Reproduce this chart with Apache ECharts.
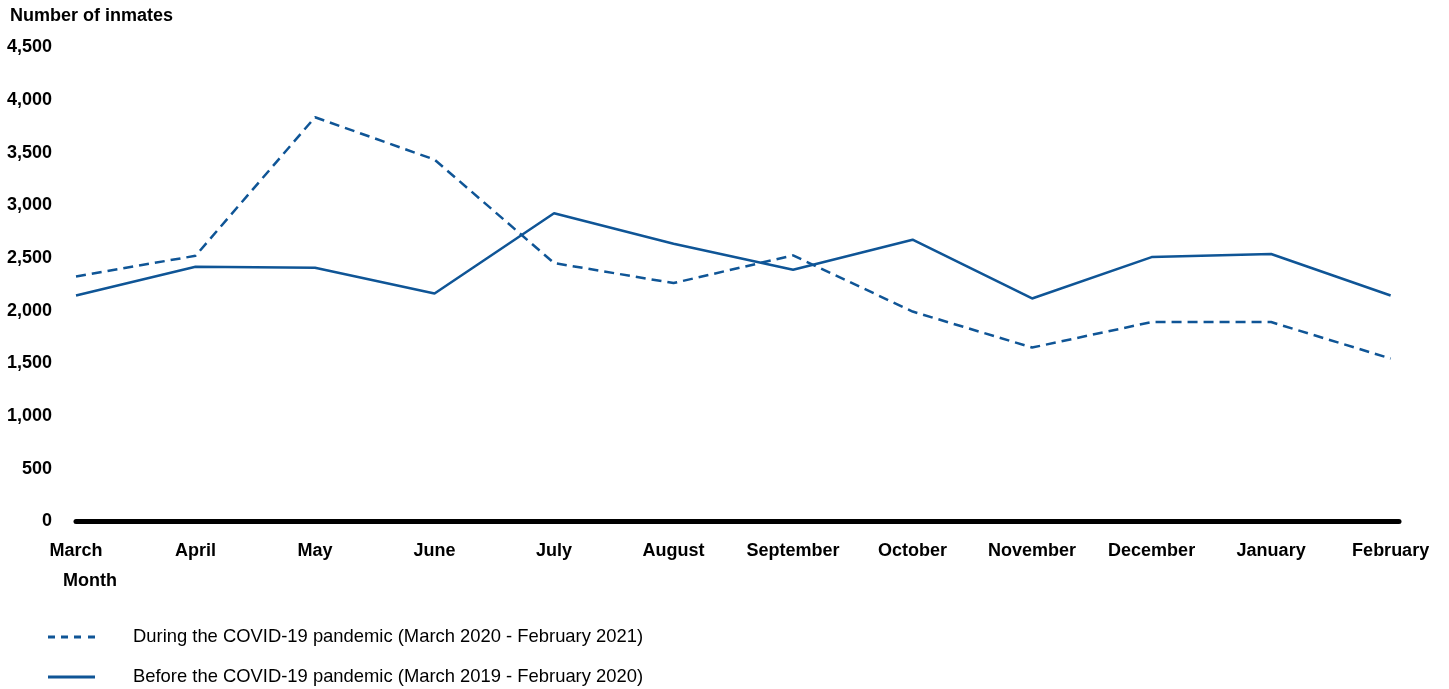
<!DOCTYPE html>
<html>
<head>
<meta charset="utf-8">
<script src="https://cdn.jsdelivr.net/npm/echarts@6/dist/echarts.min.js"></script>
<style>html,body{margin:0;padding:0;background:#fff}#c{width:1449px;height:689px}</style>
</head>
<body>
<div id="c"></div>
<script>
const months = ['March','April','May','June','July','August','September','October','November','December','January','February'];
const during = [2326, 2522, 3837, 3435, 2453, 2263, 2526, 1993, 1651, 1893, 1893, 1547];
const before = [2145, 2418, 2409, 2164, 2925, 2637, 2390, 2675, 2117, 2510, 2539, 2145];
const yTicks = [0, 500, 1000, 1500, 2000, 2500, 3000, 3500, 4000, 4500];
const nameDuring = 'During the COVID-19 pandemic (March 2020 - February 2021)';
const nameBefore = 'Before the COVID-19 pandemic (March 2019 - February 2020)';

const color = '#0f5596';
const font = '"Liberation Sans", Arial, sans-serif';
const dashIcon = 'path://M0,0H7V3H0Z M13,0H20V3H13Z M26,0H33V3H26Z M40,0H47V3H40Z';
const solidIcon = 'path://M0,0H47V3H0Z';
const legendBase = {
  orient: 'vertical', left: 43, itemWidth: 47, itemHeight: 3,
  itemStyle: {color: color},
  textStyle: {fontFamily: font, fontSize: 18.4, color: '#000', padding: [0, 0, 0, 33]}
};
const chart = echarts.init(document.getElementById('c'));
chart.setOption({
  animation: false,
  backgroundColor: '#fff',
  title: [
    {text: 'Number of inmates', left: 5, top: 2, textStyle: {fontFamily: font, fontSize: 18, fontWeight: 'bold', color: '#000'}},
    {text: 'Month', left: 58, top: 567, textStyle: {fontFamily: font, fontSize: 18, fontWeight: 'bold', color: '#000'}}
  ],
  grid: {left: 76, right: 50, top: 47.4, bottom: 167.5},
  legend: [
    Object.assign({}, legendBase, {top: 623, data: [{name: nameDuring, icon: dashIcon}]}),
    Object.assign({}, legendBase, {top: 663, data: [{name: nameBefore, icon: solidIcon}]})
  ],
  xAxis: {
    type: 'value', min: 0, max: 11.07, interval: 1,
    axisLine: {show: true, onZero: false, lineStyle: {color: '#000', width: 5}},
    axisTick: {show: false}, splitLine: {show: false},
    axisLabel: {
      margin: 21, fontFamily: font, fontSize: 18, fontWeight: 'bold', color: '#000',
      showMaxLabel: false,
      formatter: v => Number.isInteger(v) && months[v] !== undefined ? months[v] : ''
    }
  },
  yAxis: {
    type: 'value', min: 0, max: yTicks[yTicks.length - 1], interval: 500,
    axisLine: {show: false}, axisTick: {show: false}, splitLine: {show: false},
    axisLabel: {margin: 24, fontFamily: font, fontSize: 18, fontWeight: 'bold', color: '#000',
      formatter: v => v.toLocaleString('en-US')}
  },
  series: [
    {name: nameDuring, type: 'line', symbol: 'none', data: during.map((v, i) => [i, v]),
     lineStyle: {color: color, width: 2.5, type: [10, 6]}, itemStyle: {color: color}},
    {name: nameBefore, type: 'line', symbol: 'none', data: before.map((v, i) => [i, v]),
     lineStyle: {color: color, width: 2.5, type: 'solid'}, itemStyle: {color: color}}
  ]
});
</script>
</body>
</html>
